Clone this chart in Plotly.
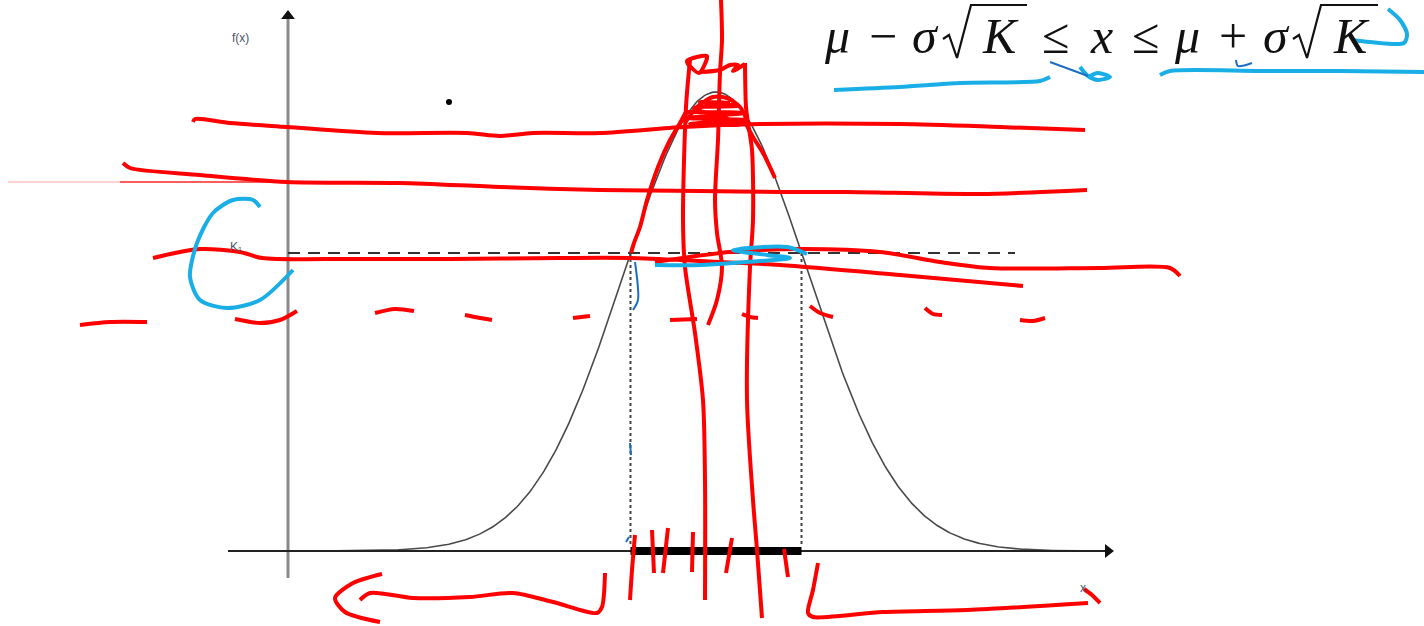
import numpy as np
import plotly.graph_objects as go

# ---- distribution and threshold ----
MU = 0.0
SIGMA = 1.0
K1 = 0.259                      # density threshold drawn as the dashed line
CURVE_SPAN = (-4.3, 4.3)        # in sigma units

# ---- page geometry (pixels) ----
W, H = 1424, 626
X0_PX, X_SCALE = 716, 92.0      # pixel of mu, pixels per sigma
Y0_PX, Y_SCALE = 551, 1150.6    # pixel of f=0, pixels per density unit

# axes of the sketch (pixel positions)
YAXIS_X = 288
YAXIS_BOTTOM, YAXIS_TOP = 578, 10
XAXIS_LEFT, XAXIS_RIGHT = 228, 1114
KLINE_END = 1015

# ---- hand-drawn ink (pixel points) ----
RED_STROKES = [
    # long horizontal strokes
    [(193, 122), (195, 119), (230, 123), (287, 127), (377, 133), (467, 133), (500, 136),
     (533, 133), (600, 133), (683, 127), (760, 124), (900, 124), (1000, 127), (1085, 130)],
    [(123, 163), (130, 168), (200, 175), (287, 182), (400, 183), (500, 187), (600, 190),
     (700, 191), (780, 192), (847, 192), (980, 194), (1087, 190)],
    [(153, 258), (200, 249), (240, 252), (262, 258), (350, 259), (450, 259), (560, 258),
     (630, 258), (700, 261), (780, 265), (900, 275), (1023, 286)],
    [(655, 262), (730, 252), (800, 249), (880, 252), (940, 262), (990, 268),
     (1100, 268), (1170, 268), (1180, 276)],
    # short dashes
    [(80, 325), (110, 322), (147, 322)],
    [(235, 319), (260, 323), (280, 320), (297, 311)],
    [(375, 313), (395, 309), (414, 311)],
    [(465, 315), (480, 318), (492, 320)],
    [(573, 318), (590, 316)],
    [(670, 320), (697, 319)],
    [(742, 314), (750, 317), (758, 318)],
    [(810, 306), (820, 313), (833, 317)],
    [(925, 308), (933, 314), (942, 315)],
    [(1020, 320), (1033, 321), (1045, 318)],
    # tracing the flanks near the top
    [(631, 253), (634, 243), (640, 227), (647, 200), (658, 167), (670, 140), (680, 123), (687, 110)],
    [(743, 118), (753, 137), (763, 153), (775, 178)],
    # verticals
    [(690, 60), (686, 107), (683, 220), (685, 267), (695, 333), (703, 400), (705, 480), (705, 600)],
    [(721, 0), (722, 40), (720, 73), (718, 140), (715, 200), (717, 233), (722, 267), (717, 300), (708, 325)],
    [(745, 63), (746, 107), (748, 123), (752, 150), (753, 220), (750, 267), (747, 400),
     (753, 500), (757, 550), (762, 618)],
    # cap scribble
    [(685, 123), (697, 107), (713, 97), (727, 98), (740, 107), (746, 118)],
    [(686, 112), (744, 113), (688, 118), (745, 120), (690, 124), (742, 124), (694, 108),
     (738, 106), (700, 102), (730, 103)],
    [(687, 60), (690, 67), (687, 61), (707, 56), (699, 73), (689, 65)],
    [(700, 72), (720, 70), (730, 65), (738, 65), (733, 71), (745, 64)],
    # ticks on the interval
    [(635, 535), (632, 570), (630, 600)],
    [(652, 530), (654, 573)],
    [(668, 528), (663, 573)],
    [(693, 532), (692, 572)],
    [(732, 538), (726, 573)],
    [(784, 549), (788, 577)],
    # bracket arrows below the axis
    [(382, 574), (353, 583), (335, 598), (345, 612), (380, 622)],
    [(360, 600), (370, 593), (413, 598), (470, 597), (513, 593), (553, 602), (597, 613),
     (602, 607), (605, 573)],
    [(818, 563), (813, 590), (808, 613), (813, 617), (883, 612), (967, 610), (1088, 603)],
    [(1084, 589), (1092, 595), (1100, 603)],
]

BLUE_STROKES = [
    [(260, 207), (253, 200), (233, 200), (213, 213), (197, 243), (190, 277), (200, 300),
     (227, 308), (260, 300), (293, 270)],
    [(655, 265), (700, 265), (733, 263), (790, 258), (767, 255), (733, 250), (787, 247), (807, 254)],
    [(834, 90), (900, 87), (960, 83), (1040, 81), (1050, 77)],
    [(1160, 75), (1170, 71), (1260, 71), (1340, 71), (1424, 72)],
    [(1080, 67), (1088, 76), (1098, 80), (1110, 77), (1098, 73), (1088, 77)],
    [(1388, 9), (1400, 20), (1407, 34), (1404, 43), (1370, 42), (1352, 40)],
]

DARK_BLUE_STROKES = [
    [(635, 262), (638, 300), (633, 310)],
    [(1050, 62), (1088, 76)],
    [(1236, 60), (1238, 66), (1252, 63)],
    [(630, 443), (631, 455)],
    [(626, 542), (629, 537)],
]

# radical signs of the formula (pixel points)
RADICALS = [
    [(943, 39), (949, 35), (957, 58), (971, 5), (1027, 5)],
    [(1293, 39), (1299, 35), (1307, 58), (1321, 5), (1378, 5)],
]
FORMULA_GLYPHS = [
    ("μ", 837), ("−", 883), ("σ", 925), ("K", 1000), ("≤", 1055),
    ("x", 1101), ("≤", 1145), ("μ", 1187), ("+", 1233), ("σ", 1276),
    ("K", 1351),
]
ITALIC_GLYPHS = {"μ", "σ", "K", "x"}


def dx(px):
    return (np.asarray(px, float) - X0_PX) / X_SCALE


def dy(py):
    return (Y0_PX - np.asarray(py, float)) / Y_SCALE


def stroke(points, color, width, opacity=1.0):
    xs, ys = zip(*points)
    return go.Scatter(x=dx(xs), y=dy(ys), mode="lines",
                      line=dict(color=color, width=width, shape="spline", smoothing=0.8),
                      opacity=opacity, hoverinfo="skip", showlegend=False)


fig = go.Figure()

# normal density
z = np.linspace(CURVE_SPAN[0], CURVE_SPAN[1], 500)
f = np.exp(-0.5 * ((z - MU) / SIGMA) ** 2) / (SIGMA * np.sqrt(2 * np.pi))
fig.add_trace(go.Scatter(x=z, y=f, mode="lines", line=dict(color="#4a4a4a", width=1.6),
                         hoverinfo="skip", showlegend=False))

# interval where f(x) >= K1
half = SIGMA * np.sqrt(-2 * np.log(K1 * SIGMA * np.sqrt(2 * np.pi)))
lo, hi = MU - half, MU + half

# axes with arrowheads
fig.add_trace(go.Scatter(x=dx([YAXIS_X, YAXIS_X]), y=dy([YAXIS_BOTTOM, YAXIS_TOP + 8]),
                         mode="lines", line=dict(color="#8a8a8a", width=3),
                         hoverinfo="skip", showlegend=False))
fig.add_trace(go.Scatter(x=dx([XAXIS_LEFT, XAXIS_RIGHT - 8]), y=[0, 0], mode="lines",
                         line=dict(color="#222", width=2), hoverinfo="skip", showlegend=False))
fig.add_trace(go.Scatter(x=dx([YAXIS_X]), y=dy([YAXIS_TOP + 6]), mode="markers",
                         marker=dict(symbol="triangle-up", size=12, color="#111"),
                         hoverinfo="skip", showlegend=False))
fig.add_trace(go.Scatter(x=dx([XAXIS_RIGHT - 6]), y=[0], mode="markers",
                         marker=dict(symbol="triangle-right", size=12, color="#111"),
                         hoverinfo="skip", showlegend=False))

# K1 level, drop lines and the interval on the axis
fig.add_trace(go.Scatter(x=[dx(YAXIS_X), dx(KLINE_END)], y=[K1, K1], mode="lines",
                         line=dict(color="#333", width=2, dash="12px,8px"),
                         hoverinfo="skip", showlegend=False))
for xv in (lo, hi):
    fig.add_trace(go.Scatter(x=[xv, xv], y=[K1, 0.004], mode="lines",
                             line=dict(color="#444", width=2, dash="dot"),
                             hoverinfo="skip", showlegend=False))
fig.add_trace(go.Scatter(x=[lo, hi], y=[0, 0], mode="lines",
                         line=dict(color="#000", width=8), hoverinfo="skip", showlegend=False))

# stray dot
fig.add_trace(go.Scatter(x=dx([449]), y=dy([102]), mode="markers",
                         marker=dict(color="#000", size=6), hoverinfo="skip", showlegend=False))

# formula radicals
for r in RADICALS:
    xs, ys = zip(*r)
    fig.add_trace(go.Scatter(x=dx(xs), y=dy(ys), mode="lines",
                             line=dict(color="#111", width=2.2), hoverinfo="skip",
                             showlegend=False))

# ink
fig.add_trace(go.Scatter(x=dx([8, 120]), y=dy([182, 182]), mode="lines",
                         line=dict(color="#ff0000", width=1), opacity=0.35,
                         hoverinfo="skip", showlegend=False))
fig.add_trace(go.Scatter(x=dx([120, 290]), y=dy([182, 182]), mode="lines",
                         line=dict(color="#ff0000", width=1.5), opacity=0.85,
                         hoverinfo="skip", showlegend=False))
for s in RED_STROKES:
    fig.add_trace(stroke(s, "#ff0000", 4))
for s in BLUE_STROKES:
    fig.add_trace(stroke(s, "#19aee6", 4))
for s in DARK_BLUE_STROKES:
    fig.add_trace(stroke(s, "#1a6fc4", 2))

# labels
label_font = dict(family="Liberation Sans, Arial, sans-serif", size=12, color="#4b5566")
fig.add_annotation(x=dx(240), y=dy(38), text="f(x)", showarrow=False, font=label_font,
                   xref="x", yref="y")
fig.add_annotation(x=dx(236), y=dy(247), text="K₁", showarrow=False,
                   font=label_font, xref="x", yref="y")
fig.add_annotation(x=dx(1083), y=dy(588), text="x", showarrow=False, font=label_font,
                   xref="x", yref="y")
for txt, cx in FORMULA_GLYPHS:
    fig.add_annotation(x=dx(cx), y=dy(36), text=txt, showarrow=False, xref="x", yref="y",
                       font=dict(family="Liberation Serif, Times New Roman, serif",
                                 size=50, color="#111",
                                 style="italic" if txt in ITALIC_GLYPHS else "normal"))

fig.update_layout(
    width=W, height=H, margin=dict(l=0, r=0, t=0, b=0),
    paper_bgcolor="white", plot_bgcolor="white", showlegend=False,
    xaxis=dict(range=[dx(0), dx(W)], visible=False, fixedrange=True),
    yaxis=dict(range=[dy(H), dy(0)], visible=False, fixedrange=True),
)

fig.write_html("out.html")
